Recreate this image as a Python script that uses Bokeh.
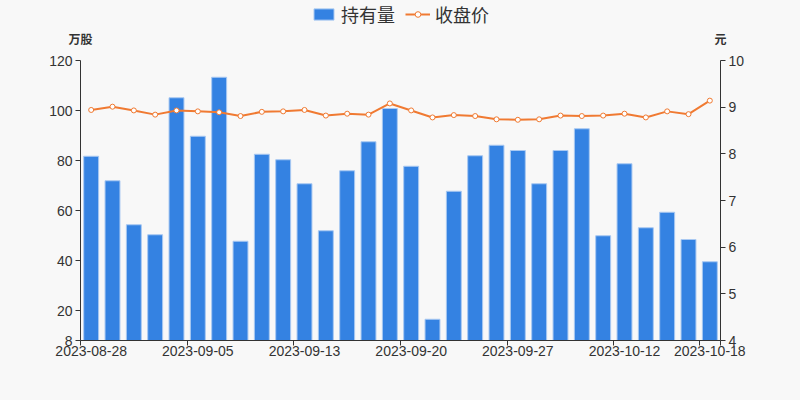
from bokeh.plotting import figure
from bokeh.models import (Range1d, LinearAxis, FixedTicker, ColumnDataSource,
                          Legend, LegendItem, Label)
from bokeh.embed import file_html
from bokeh.resources import INLINE

dates = ["2023-08-28", "2023-08-29", "2023-08-30", "2023-08-31", "2023-09-01",
         "2023-09-05", "2023-09-06", "2023-09-07", "2023-09-08", "2023-09-11",
         "2023-09-13", "2023-09-14", "2023-09-15", "2023-09-18", "2023-09-19",
         "2023-09-20", "2023-09-21", "2023-09-22", "2023-09-25", "2023-09-26",
         "2023-09-27", "2023-09-28", "2023-10-09", "2023-10-10", "2023-10-11",
         "2023-10-12", "2023-10-13", "2023-10-16", "2023-10-17", "2023-10-18"]
holdings = [81.7, 71.9, 54.3, 50.3, 105.1, 89.7, 113.3, 47.7, 82.5, 80.3,
            70.7, 51.9, 75.9, 87.5, 100.8, 77.7, 16.5, 67.7, 81.9, 86.1,
            84.0, 70.7, 84.0, 92.7, 49.9, 78.7, 53.1, 59.3, 48.4, 39.5]
close = [8.94, 9.01, 8.93, 8.84, 8.93, 8.91, 8.89, 8.81, 8.90, 8.91,
         8.94, 8.82, 8.86, 8.84, 9.08, 8.93, 8.78, 8.83, 8.81, 8.74,
         8.73, 8.74, 8.82, 8.81, 8.82, 8.86, 8.78, 8.91, 8.85, 9.14]
label_idx = [0, 5, 10, 15, 20, 25, 29]
left_ticks = [8, 20, 40, 60, 80, 100, 120]
right_ticks = [4, 5, 6, 7, 8, 9, 10]
units = ["万股", "元"]

n = len(dates)
xs = [i + 0.5 for i in range(n)]
src = ColumnDataSource(dict(x=xs, h=holdings, c=close))

BG = "#f8f8f8"
TXT = "#333333"
# The frame is larger than the plotting area so that the legend, the unit
# labels and all axes (at fixed locations) live inside it.
AX_TOP, AX_BOT, FRAME_BOT = 60.0, 340.0, 372.0
AX_H = AX_BOT - AX_TOP
FRAME_W, AX_W = 720.0, 640.0
lmin, lmax = left_ticks[0], left_ticks[-1]
rmin, rmax = right_ticks[0], right_ticks[-1]
lpx = AX_H / (lmax - lmin)
rpx = AX_H / (rmax - rmin)
l_lo, l_hi = lmin - (FRAME_BOT - AX_BOT) / lpx, lmax + AX_TOP / lpx
r_lo, r_hi = rmin - (FRAME_BOT - AX_BOT) / rpx, rmax + AX_TOP / rpx
xpad = n * (FRAME_W - AX_W) / 2 / AX_W

p = figure(width=784, height=384, output_backend="svg", toolbar_location=None,
           x_range=Range1d(-xpad, n + xpad), y_range=Range1d(l_lo, l_hi),
           background_fill_color=BG, border_fill_color=BG,
           min_border_left=40, min_border_right=24, min_border_top=0,
           min_border_bottom=int(384 - FRAME_BOT), outline_line_color=None)
p.grid.visible = False
p.extra_y_ranges = {"price": Range1d(r_lo, r_hi)}

bars = p.vbar(x="x", top="h", bottom=lmin, width=0.7, source=src,
              fill_color="#3482e2", line_color="#a9c9f2", line_width=1)
line = p.line(x="x", y="c", source=src, y_range_name="price",
              line_color="#f07a32", line_width=2)
pts = p.scatter(x="x", y="c", source=src, y_range_name="price", size=5,
                fill_color="white", line_color="#f07a32", line_width=1)

def style_axis(ax, size="14px"):
    ax.axis_line_color = TXT
    ax.major_tick_line_color = TXT
    ax.minor_tick_line_color = None
    ax.major_tick_in = 0
    ax.major_tick_out = 5
    ax.major_label_standoff = 3
    ax.major_label_text_color = TXT
    ax.major_label_text_font = "Liberation Sans"
    ax.major_label_text_font_size = size

# bottom axis: labels at category centres, tick marks at boundaries (minor)
xa = p.xaxis[0]
style_axis(xa)
xa.ticker = FixedTicker(ticks=[i + 0.5 for i in label_idx],
                        minor_ticks=label_idx + [n])
xa.major_label_overrides = {i + 0.5: dates[i] for i in label_idx}
xa.bounds = (0, n)
xa.fixed_location = lmin
xa.major_tick_line_color = None
xa.major_tick_out = 5
xa.major_label_standoff = 0
xa.minor_tick_line_color = TXT
xa.minor_tick_line_width = 1
xa.minor_tick_in = 0
xa.minor_tick_out = 5

ya = p.yaxis[0]
style_axis(ya)
ya.ticker = FixedTicker(ticks=left_ticks)
ya.bounds = (lmin, lmax)
ya.fixed_location = 0

yr = LinearAxis(y_range_name="price", ticker=FixedTicker(ticks=right_ticks),
                bounds=(rmin, rmax), fixed_location=n)
style_axis(yr)
p.add_layout(yr, "right")

# unit labels above the two value axes
edge = (FRAME_W - AX_W) / 2
lab_y = FRAME_BOT - 38
for txt, sx in ((units[0], edge), (units[1], edge + AX_W)):
    p.add_layout(Label(x=sx, y=lab_y, x_units="screen", y_units="screen",
                       text=txt, text_align="center", text_baseline="middle",
                       text_font="Noto Sans CJK SC", text_font_size="12px",
                       text_font_style="bold", text_color=TXT))

legend = Legend(items=[LegendItem(label="持有量", renderers=[bars]),
                       LegendItem(label="收盘价", renderers=[line, pts])],
                orientation="horizontal", location=(271, FRAME_BOT - 27),
                background_fill_alpha=0, border_line_color=None,
                padding=0, margin=0, spacing=10, label_standoff=5,
                glyph_width=25, glyph_height=14,
                label_text_font="Noto Sans CJK SC", label_text_font_size="18px",
                label_text_color=TXT)
p.add_layout(legend, "center")

html = file_html(p, INLINE)
html = html.replace("<head>", "<head><style>html, body { background: #f8f8f8; }</style>", 1)
open("out.html", "w").write(html)
